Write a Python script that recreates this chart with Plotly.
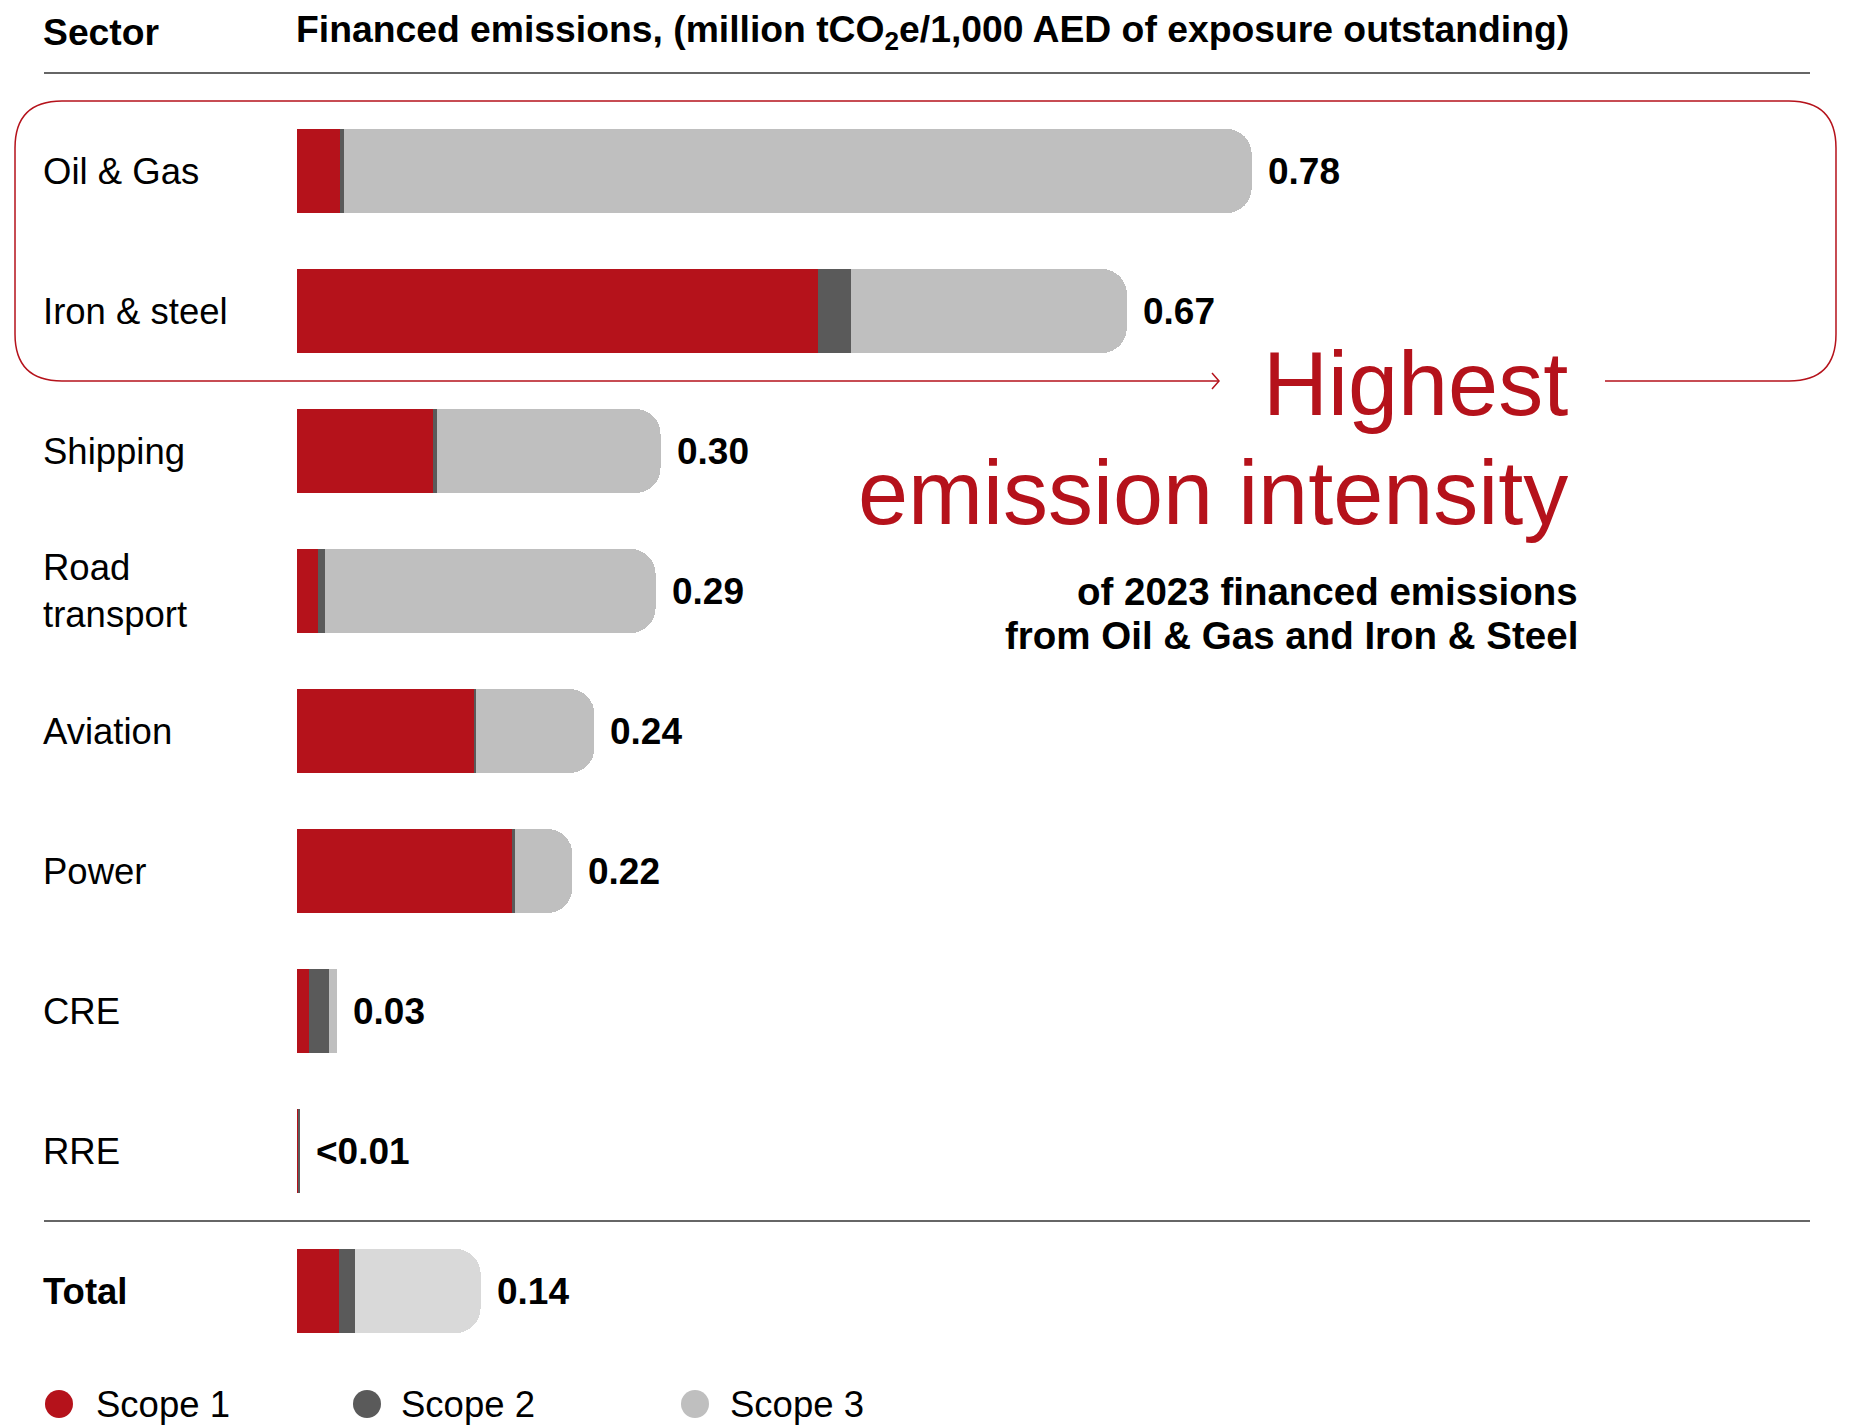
import plotly.graph_objects as go

# ---------------- data ----------------
sectors = ["Oil & Gas", "Iron & steel", "Shipping", "Road transport", "Aviation",
           "Power", "CRE", "RRE", "Total"]
sector_labels = ["Oil & Gas", "Iron & steel", "Shipping", "Road<br>transport", "Aviation",
                 "Power", "CRE", "RRE", "<b>Total</b>"]
scope1 = [0.035, 0.426, 0.111, 0.017, 0.145, 0.176, 0.010, 0.0011, 0.034]
scope2 = [0.003, 0.027, 0.003, 0.006, 0.001, 0.002, 0.016, 0.0011, 0.013]
scope3 = [0.742, 0.225, 0.183, 0.270, 0.097, 0.047, 0.007, 0.0, 0.103]
value_labels = ["0.78", "0.67", "0.30", "0.29", "0.24", "0.22", "0.03", "<0.01", "0.14"]
series_names = ["Scope 1", "Scope 2", "Scope 3"]
header_sector = "Sector"
header_title = "Financed emissions, (million tCO<sub>2</sub>e/1,000 AED of exposure outstanding)"
callout_big = ["Highest", "emission intensity"]
callout_small = ["of 2023 financed emissions", "from Oil & Gas and Iron & Steel"]

# ---------------- style ----------------
RED = "#b5121b"
DARK = "#5a5a5a"
LIGHT = "#bfbfbf"
LIGHT_TOTAL = "#d9d9d9"
FONT = "Liberation Sans, Arial, Helvetica, sans-serif"

W, H = 1850, 1425
ML, MR, MT, MB = 297, 40, 101, 64
PW, PH = W - ML - MR, H - MT - MB
PX_PER_UNIT = 1224.0
RADIUS = 25


def xp(px):
    return (px - ML) / PW


def yp(py):
    return (H - MB - py) / PH


scope3_colors = [LIGHT] * (len(sectors) - 1) + [LIGHT_TOTAL]
totals = [a + b + c for a, b, c in zip(scope1, scope2, scope3)]
# short stacks are drawn with square ends (on an overlaid axis so the rounding does not apply)
is_long = [t * PX_PER_UNIT > 2 * RADIUS for t in totals]

fig = go.Figure()
for group, yaxis, radius in [(True, "y", RADIUS), (False, "y2", 0)]:
    idx = [i for i, lg in enumerate(is_long) if lg == group]
    ys = [sectors[i] for i in idx]
    for name, vals, col in [("Scope 1", scope1, RED), ("Scope 2", scope2, DARK),
                            ("Scope 3", scope3, scope3_colors)]:
        c = [col[i] for i in idx] if isinstance(col, list) else col
        fig.add_trace(go.Bar(
            y=ys, x=[vals[i] for i in idx], orientation="h", name=name, yaxis=yaxis,
            marker=dict(color=c, line=dict(width=0), cornerradius=radius),
            width=0.6, showlegend=False, hoverinfo="x+name",
        ))

annotations = []
# value labels
for s, t, lab in zip(sectors, totals, value_labels):
    annotations.append(dict(x=t, y=s, xref="x", yref="y", text="<b>%s</b>" % lab, showarrow=False,
                            xanchor="left", yanchor="middle", xshift=14,
                            font=dict(family=FONT, size=37, color="#000000")))
# category labels
for s, lab in zip(sectors, sector_labels):
    annotations.append(dict(x=xp(41), y=s, xref="paper", yref="y", text=lab, showarrow=False,
                            xanchor="left", yanchor="middle", align="left",
                            font=dict(family=FONT, size=36.5, color="#000000")))
# headers
annotations.append(dict(x=xp(41), y=yp(32), xref="paper", yref="paper", text="<b>%s</b>" % header_sector,
                        showarrow=False, xanchor="left", yanchor="middle",
                        font=dict(family=FONT, size=37.3, color="#000000")))
annotations.append(dict(x=xp(294), y=yp(32), xref="paper", yref="paper", text="<b>%s</b>" % header_title,
                        showarrow=False, xanchor="left", yanchor="middle",
                        font=dict(family=FONT, size=37.3, color="#000000")))
# callout
annotations.append(dict(x=xp(1570), y=yp(384), xref="paper", yref="paper", text=callout_big[0],
                        showarrow=False, xanchor="right", yanchor="middle",
                        font=dict(family=FONT, size=90, color=RED)))
annotations.append(dict(x=xp(1570), y=yp(493), xref="paper", yref="paper", text=callout_big[1],
                        showarrow=False, xanchor="right", yanchor="middle",
                        font=dict(family=FONT, size=90, color=RED)))
annotations.append(dict(x=xp(1580), y=yp(591), xref="paper", yref="paper", text="<b>%s</b>" % callout_small[0],
                        showarrow=False, xanchor="right", yanchor="middle",
                        font=dict(family=FONT, size=38.5, color="#000000")))
annotations.append(dict(x=xp(1580), y=yp(635), xref="paper", yref="paper", text="<b>%s</b>" % callout_small[1],
                        showarrow=False, xanchor="right", yanchor="middle",
                        font=dict(family=FONT, size=38.5, color="#000000")))

shapes = []
# header rule and total separator
shapes.append(dict(type="line", xref="paper", yref="paper", x0=xp(44), x1=xp(1810), y0=yp(73), y1=yp(73),
                   line=dict(color="#333333", width=1.5)))
shapes.append(dict(type="line", xref="paper", yref="paper", x0=xp(44), x1=xp(1810), y0=yp(1221), y1=yp(1221),
                   line=dict(color="#333333", width=1.5)))

# highlight box with gap and arrow
L, R, T, B, r = 15, 1836, 101, 381, 47
arrow_x, gap_end = 1219, 1605


def P(px, py):
    return "%.5f,%.5f" % (xp(px), yp(py))


path = ("M" + P(gap_end, B) + " L" + P(R - r, B) + " Q" + P(R, B) + " " + P(R, B - r) +
        " L" + P(R, T + r) + " Q" + P(R, T) + " " + P(R - r, T) +
        " L" + P(L + r, T) + " Q" + P(L, T) + " " + P(L, T + r) +
        " L" + P(L, B - r) + " Q" + P(L, B) + " " + P(L + r, B) +
        " L" + P(arrow_x, B))
shapes.append(dict(type="path", xref="paper", yref="paper", path=path,
                   line=dict(color=RED, width=1.5)))
shapes.append(dict(type="path", xref="paper", yref="paper",
                   path="M" + P(arrow_x - 7, B - 8) + " L" + P(arrow_x, B) + " L" + P(arrow_x - 7, B + 8),
                   line=dict(color=RED, width=1.5)))

# legend (circle + label)
legend_cx = [59, 367, 695]
legend_tx = [94, 399, 728]
legend_cols = [RED, DARK, LIGHT]
for cx, tx, col, nm in zip(legend_cx, legend_tx, legend_cols, series_names):
    shapes.append(dict(type="circle", xref="paper", yref="paper", x0=xp(cx - 14), x1=xp(cx + 14),
                       y0=yp(1404 + 14), y1=yp(1404 - 14), fillcolor=col, line=dict(width=0)))
    annotations.append(dict(x=xp(tx), y=yp(1404), xref="paper", yref="paper", text=nm,
                            showarrow=False, xanchor="left", yanchor="middle",
                            font=dict(family=FONT, size=36.5, color="#000000")))

yaxis_common = dict(type="category", categoryorder="array", categoryarray=sectors,
                    range=[len(sectors) - 0.5, -0.5], visible=False, fixedrange=True)
fig.update_layout(
    width=W, height=H, margin=dict(l=ML, r=MR, t=MT, b=MB),
    barmode="stack", bargap=0.4,
    paper_bgcolor="white", plot_bgcolor="white",
    xaxis=dict(range=[0, PW / PX_PER_UNIT], visible=False, fixedrange=True),
    yaxis=yaxis_common,
    yaxis2=dict(overlaying="y", **yaxis_common),
    annotations=annotations, shapes=shapes,
    showlegend=False,
    font=dict(family=FONT),
)

fig.write_html("out.html")
